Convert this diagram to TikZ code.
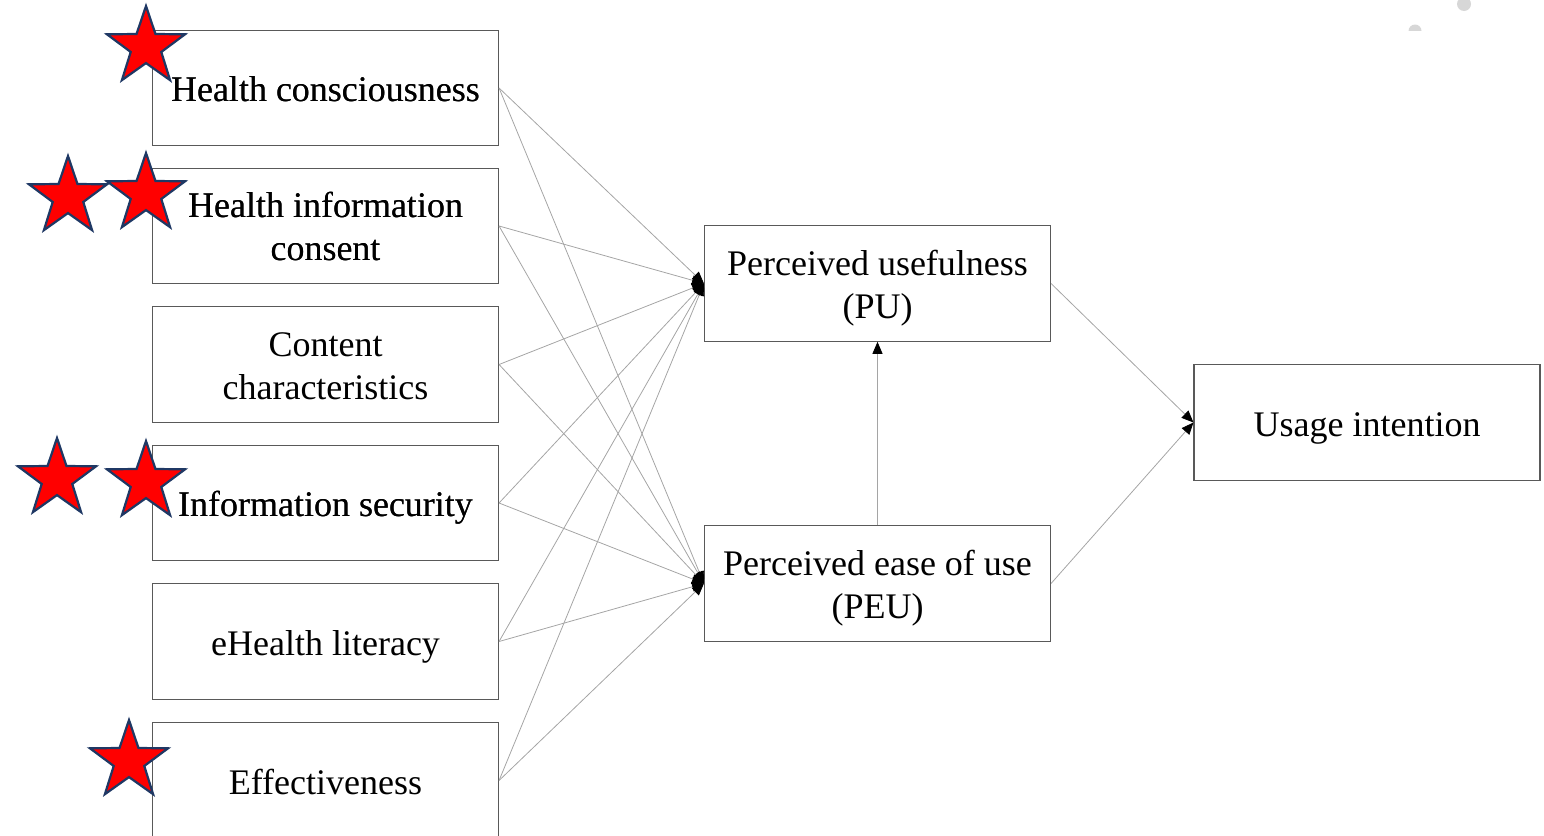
\documentclass[tikz,border=0pt]{standalone}
\usepackage{fontspec}
\setmainfont{Liberation Serif}
\usetikzlibrary{arrows.meta,shapes.geometric}

\definecolor{boxline}{RGB}{89,89,89}
\definecolor{linkgray}{RGB}{165,165,165}
\definecolor{starred}{RGB}{255,0,0}
\definecolor{starrim}{RGB}{31,56,100}
\definecolor{dotgray}{RGB}{215,215,215}

\tikzset{
  labeltext/.style={align=center, inner sep=0pt,
    font=\fontsize{36}{43}\selectfont},
  oneline/.style={text height=30pt, text depth=3pt},
  twoline/.style={text height=72pt, text depth=3pt},
  factor/.style={labeltext, draw=boxline, line width=1.1pt, fill=white,
    minimum width=346pt, minimum height=115.5pt},
  link/.style={draw=linkgray, line width=0.8pt,
    -{Triangle[length=12pt,width=10pt,color=black,fill=black]}},
  redstar/.style={star, star points=5, star point ratio=2.55,
    minimum size=82pt, inner sep=0pt, fill=starred, draw=starrim,
    line width=2.2pt},
}

\begin{document}
\begin{tikzpicture}[x=1pt, y=-1pt]
  \clip (0,0) rectangle (1544,835);
  \useasboundingbox (0,0) rectangle (1544,835);

  % faint decorative dots in the corner
  \fill[dotgray] (1464,4) circle (7);
  \begin{scope}
    \clip (1400,0) rectangle (1430,30);
    \fill[dotgray] (1415,31) circle (6.5);
  \end{scope}

  % antecedent factors
  \node[factor, oneline] (b1) at (325.5,88)    {Health consciousness};
  \node[factor, twoline] (b2) at (325.5,226)   {Health information\\consent};
  \node[factor, twoline] (b3) at (325.5,364.5) {Content\\characteristics};
  \node[factor, oneline] (b4) at (325.5,503)   {Information security};
  \node[factor, oneline] (b5) at (325.5,641.5) {eHealth literacy};
  \node[factor, oneline] (b6) at (325.5,780.5) {Effectiveness};

  % TAM constructs
  \node[factor, twoline] (pu)  at (877.5,283.5) {Perceived usefulness\\(PU)};
  \node[factor, twoline] (peu) at (877.5,583.5) {Perceived ease of use\\(PEU)};
  \node[factor, oneline] (ui)  at (1367,422.5)  {Usage intention};

  % paths from each factor to PU and PEU
  \foreach \i in {1,...,6} {
    \draw[link] (b\i.east) -- (pu.west);
    \draw[link] (b\i.east) -- (peu.west);
  }
  \draw[link] (peu.north) -- (pu.south);
  \draw[link] (pu.east) -- (ui.west);
  \draw[link] (peu.east) -- (ui.west);

  % significance markers
  \node[redstar] (s1) at (146,47)  {};
  \node[redstar] (s2) at (68,197)  {};
  \node[redstar] (s3) at (146,194) {};
  \node[redstar] (s4) at (57,479)  {};
  \node[redstar] (s5) at (146,482) {};
  \node[redstar] (s6) at (129,761) {};

  % labels redrawn above the markers that overlap them
  \node[labeltext, oneline] (t1) at (b1) {Health consciousness};
  \node[labeltext, twoline] (t2) at (b2) {Health information\\consent};
  \node[labeltext, oneline] (t4) at (b4) {Information security};
\end{tikzpicture}
\end{document}
